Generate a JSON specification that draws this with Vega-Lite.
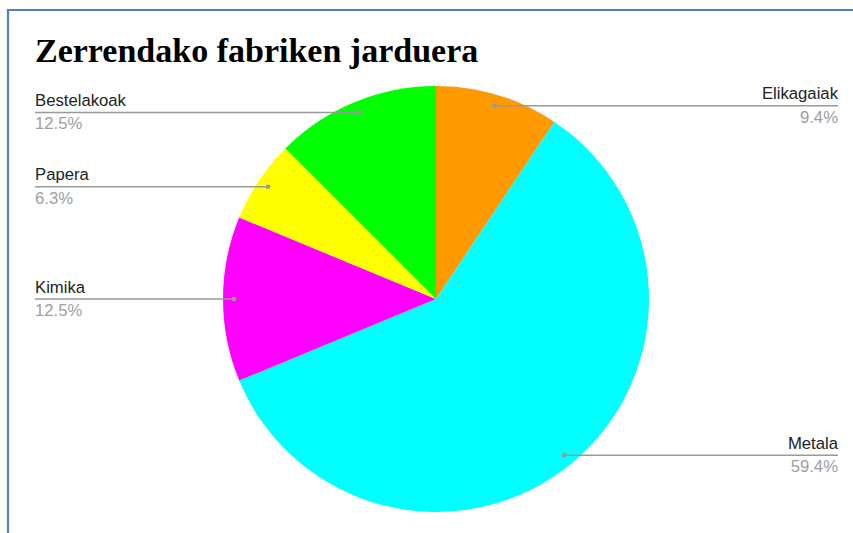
{
  "$schema": "https://vega.github.io/schema/vega-lite/v6.json",
  "width": 848,
  "height": 527,
  "autosize": {"type": "none"},
  "padding": {"left": 8, "top": 10, "right": 0, "bottom": 0},
  "background": "white",
  "config": {"view": {"stroke": "#4f81bd", "strokeWidth": 2.2}},
  "title": {
    "text": "Zerrendako fabriken jarduera",
    "anchor": "start",
    "frame": "group",
    "orient": "top",
    "baseline": "alphabetic",
    "offset": -86,
    "dx": 27,
    "font": "Liberation Serif",
    "fontSize": 34,
    "fontWeight": "bold",
    "color": "#000000"
  },
  "data": {
    "values": [
      {"idx": 1, "cat": "Elikagaiak", "value": 3},
      {"idx": 2, "cat": "Metala", "value": 19},
      {"idx": 3, "cat": "Kimika", "value": 4},
      {"idx": 4, "cat": "Papera", "value": 2},
      {"idx": 5, "cat": "Bestelakoak", "value": 4}
    ]
  },
  "transform": [
    {"joinaggregate": [{"op": "sum", "field": "value", "as": "total"}]},
    {"window": [{"op": "sum", "field": "value", "as": "cum"}], "sort": [{"field": "idx", "order": "ascending"}], "frame": [null, 0]},
    {"calculate": "(datum.cum - datum.value / 2) / datum.total * 2 * PI", "as": "mid"},
    {"calculate": "202 * sin(datum.mid)", "as": "px"},
    {"calculate": "202 * cos(datum.mid)", "as": "py"},
    {"calculate": "datum.mid < PI ? 402 : -401", "as": "ex"},
    {"calculate": "datum.value / datum.total", "as": "pct"}
  ],
  "encoding": {
    "x": {"type": "quantitative", "scale": {"domain": [-428, 420], "nice": false, "zero": false}, "axis": null},
    "y": {"type": "quantitative", "scale": {"domain": [-238, 289], "nice": false, "zero": false}, "axis": null}
  },
  "layer": [
    {
      "mark": {"type": "arc", "radius": 213, "stroke": null},
      "encoding": {
        "x": {"datum": 0, "type": "quantitative"},
        "y": {"datum": 0, "type": "quantitative"},
        "theta": {"field": "value", "type": "quantitative", "stack": true},
        "order": {"field": "idx", "type": "quantitative"},
        "color": {
          "field": "cat",
          "type": "nominal",
          "scale": {
            "domain": ["Elikagaiak", "Metala", "Kimika", "Papera", "Bestelakoak"],
            "range": ["#ff9900", "#00ffff", "#ff00ff", "#ffff00", "#00ff00"]
          },
          "legend": null
        }
      }
    },
    {
      "mark": {"type": "rule", "color": "#999999", "strokeWidth": 1.5},
      "encoding": {
        "x": {"field": "px"},
        "x2": {"field": "ex"},
        "y": {"field": "py"}
      }
    },
    {
      "mark": {"type": "circle", "color": "#999999", "size": 22, "opacity": 1},
      "encoding": {
        "x": {"field": "px"},
        "y": {"field": "py"}
      }
    },
    {
      "transform": [{"filter": "datum.mid < PI"}],
      "layer": [
        {
          "mark": {"type": "text", "align": "right", "baseline": "alphabetic", "dy": -6.5, "font": "Liberation Sans", "fontSize": 16.7, "color": "#222222"},
          "encoding": {"x": {"field": "ex"}, "y": {"field": "py"}, "text": {"field": "cat"}}
        },
        {
          "mark": {"type": "text", "align": "right", "baseline": "alphabetic", "dy": 17, "font": "Liberation Sans", "fontSize": 16.7, "color": "#9e9e9e"},
          "encoding": {"x": {"field": "ex"}, "y": {"field": "py"}, "text": {"field": "pct", "format": ".1%"}}
        }
      ]
    },
    {
      "transform": [{"filter": "datum.mid >= PI"}],
      "layer": [
        {
          "mark": {"type": "text", "align": "left", "baseline": "alphabetic", "dy": -6.5, "font": "Liberation Sans", "fontSize": 16.7, "color": "#222222"},
          "encoding": {"x": {"field": "ex"}, "y": {"field": "py"}, "text": {"field": "cat"}}
        },
        {
          "mark": {"type": "text", "align": "left", "baseline": "alphabetic", "dy": 17, "font": "Liberation Sans", "fontSize": 16.7, "color": "#9e9e9e"},
          "encoding": {"x": {"field": "ex"}, "y": {"field": "py"}, "text": {"field": "pct", "format": ".1%"}}
        }
      ]
    }
  ]
}
